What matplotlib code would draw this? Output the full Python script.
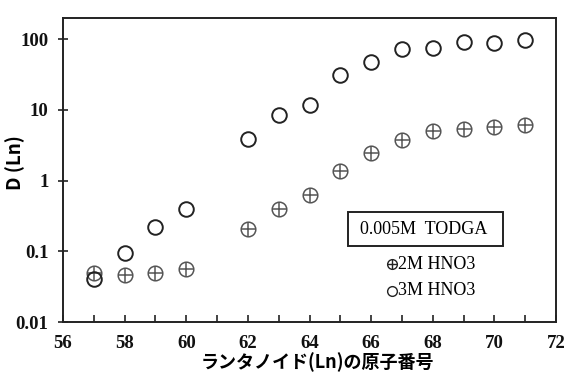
import matplotlib.pyplot as plt
from matplotlib.patches import Rectangle
import numpy as np

# atomic numbers of the lanthanides (Pm, 61, not measured)
z = [57, 58, 59, 60, 62, 63, 64, 65, 66, 67, 68, 69, 70, 71]
d_2m = [0.050, 0.046, 0.050, 0.056, 0.21, 0.40, 0.62, 1.36, 2.5, 3.8, 5.0, 5.4, 5.7, 6.1]
d_3m = [0.040, 0.094, 0.22, 0.40, 3.9, 8.4, 11.9, 31, 48, 74, 76, 93, 88, 98]

serif = ["Liberation Serif", "DejaVu Serif"]
jp = ["Noto Sans CJK JP", "DejaVu Sans"]

fig = plt.figure(figsize=(5.74, 3.76), dpi=100)
ax = fig.add_axes([0.1098, 0.1436, 0.8588, 0.8085])

ms = 10.5
ax.plot(z, d_2m, ls="none", marker="o", ms=ms, mfc="none", mec="#555555", mew=1.1)
ax.plot(z, d_2m, ls="none", marker="+", ms=ms, mec="#555555", mew=1.1)
ax.plot(z, d_3m, ls="none", marker="o", ms=ms, mfc="none", mec="#222222", mew=1.4)

ax.set_yscale("log")
ax.set_ylim(0.01, 200)
ax.set_xlim(56, 72)
ax.set_xticks(np.arange(56, 73, 2))
ax.set_xticks(np.arange(57, 72, 2), minor=True)
ax.set_yticks([0.01, 0.1, 1, 10, 100])
ax.set_yticklabels(["0.01", "0.1", "1", "10", "100"])
ax.yaxis.set_minor_locator(plt.NullLocator())

for s in ax.spines.values():
    s.set_linewidth(1.4)
    s.set_color("#222222")
ax.tick_params(which="both", direction="in", length=5, width=1.2, color="#222222")
ax.tick_params(axis="y", direction="inout", length=7)
for lab in ax.get_xticklabels() + ax.get_yticklabels():
    lab.set_family(serif)
    lab.set_fontsize(13.5)
    lab.set_fontweight("bold")
    lab.set_color("#111111")
ax.tick_params(axis="x", pad=9)
ax.tick_params(axis="y", pad=7)

fig.text(0.553, 0.036, "ランタノイド(Ln)の原子番号", family=jp, fontsize=13,
         fontweight="bold", ha="center", va="center")
fig.text(0.027, 0.567, "D (Ln)", family=jp, fontsize=13.5, fontweight="bold",
         rotation=90, ha="center", va="center")

# boxed title of the key
ax.add_patch(Rectangle((0.578, 0.25), 0.314, 0.112, transform=ax.transAxes,
                       fc="white", ec="#222222", lw=1.4, zorder=3))
ax.text(0.731, 0.303, "0.005M  TODGA", transform=ax.transAxes, family=serif,
        fontsize=13, ha="center", va="center", zorder=4)

# key entries: marker + label
kx = 0.667
for y, label, plus in [(0.190, "2M HNO3", True), (0.102, "3M HNO3", False)]:
    ax.plot([kx], [y], transform=ax.transAxes, ls="none", marker="o", ms=7,
            mfc="none", mec="#222222", mew=1.0, clip_on=False)
    if plus:
        ax.plot([kx], [y], transform=ax.transAxes, ls="none", marker="+", ms=7,
                mec="#222222", mew=1.0, clip_on=False)
    ax.text(0.679, y, label, transform=ax.transAxes, family=serif,
            fontsize=13, ha="left", va="center")

fig.savefig("out.png", dpi=100)
